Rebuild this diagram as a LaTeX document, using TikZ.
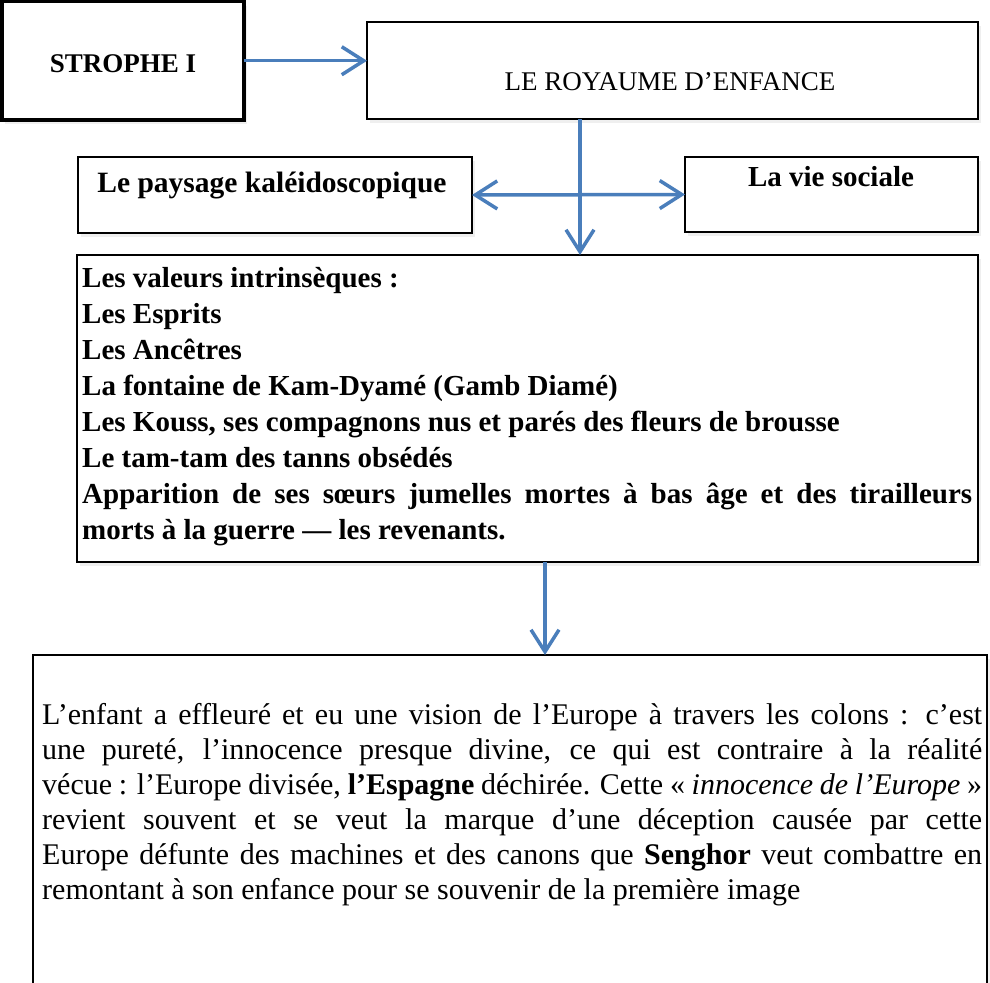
\documentclass[tikz,border=0pt]{standalone}
\usepackage{fontspec}
\setmainfont{Liberation Serif}
\usetikzlibrary{arrows.meta,shadows,calc}
\definecolor{arrblue}{RGB}{74,126,187}
\begin{document}
\begin{tikzpicture}[x=1pt,y=-1pt,
  box/.style={draw=black, line width=2.2pt, fill=white, inner sep=0pt, outer sep=0pt, anchor=north west,
    drop shadow={opacity=0.12, shadow xshift=3pt, shadow yshift=-4pt}},
  thickbox/.style={box, line width=3.5pt},
  arr/.style={draw=arrblue, line width=3.5pt, -{Straight Barb[length=22pt,width=28pt]}},
  dblarr/.style={draw=arrblue, line width=3.5pt, {Straight Barb[length=22pt,width=28pt]}-{Straight Barb[length=22pt,width=28pt]}},
  lbl/.style={inner sep=0pt, anchor=base},
  para/.style={inner sep=0pt, anchor=base west},
]
\useasboundingbox (0,0) rectangle (990,982);
\fill[white] (0,0) rectangle (990,982);

% boxes
\node[thickbox, minimum width=242pt, minimum height=118pt] (b1) at (1.75,1.75) {};
\node[box, minimum width=611pt, minimum height=97pt] (b2) at (367,22) {};
\node[box, minimum width=394pt, minimum height=76pt] (b3) at (78,157) {};
\node[box, minimum width=293pt, minimum height=75pt] (b6) at (685,157) {};
\node[box, minimum width=901pt, minimum height=307pt] (b4) at (77,255) {};
\node[box, minimum width=954pt, minimum height=360pt] (b5) at (33,655) {};

% labels
\node[lbl, font=\fontsize{27}{32}\selectfont\bfseries] (t1) at (123,73) {STROPHE I};
\node[lbl, font=\fontsize{27}{32}\selectfont] (t2) at (670,90) {LE ROYAUME D’ENFANCE};
\node[lbl, font=\fontsize{29.5}{34}\selectfont\bfseries] (t3) at (272,192) {Le paysage kaléidoscopique};
\node[lbl, font=\fontsize{29}{34}\selectfont\bfseries] (t6) at (831,186) {La vie sociale};

\node[para] (t4) at (82,287) {\parbox[t]{890pt}{\fontsize{29}{36}\selectfont\bfseries
\tolerance=10000 \hyphenpenalty=10000 \exhyphenpenalty=10000
Les valeurs intrinsèques :\\
Les Esprits\\
Les Ancêtres\\
La fontaine de Kam-Dyamé (Gamb Diamé)\\
Les Kouss, ses compagnons nus et parés des fleurs de brousse\\
Le tam-tam des tanns obsédés\\
Apparition de ses sœurs jumelles mortes à bas âge et des tirailleurs\linebreak
morts à la guerre — les revenants.}};

\node[para] (t5) at (42,724) {\parbox[t]{940pt}{\fontsize{30}{35}\selectfont
\tolerance=10000 \hyphenpenalty=10000 \exhyphenpenalty=10000
L’enfant a effleuré et eu une vision de l’Europe à travers les colons : c’est\linebreak
une pureté, l’innocence presque divine, ce qui est contraire à la réalité\linebreak
vécue : l’Europe divisée, \textbf{l’Espagne} déchirée. Cette « \textit{innocence de l’Europe} »\linebreak
revient souvent et se veut la marque d’une déception causée par cette\linebreak
Europe défunte des machines et des canons que \textbf{Senghor} veut combattre en\linebreak
remontant à son enfance pour se souvenir de la première image}};

% connectors
\coordinate (vx) at (580,190);
\coordinate (vy) at (545,600);
\draw[arr] (b1.east) -- (b1.east -| b2.west);
\draw[arr] (vx |- b2.south) -- (vx |- b4.north);
\draw[dblarr] (b3.east) -- (b6.west);
\draw[arr] (vy |- b4.south) -- (vy |- b5.north);
\end{tikzpicture}
\end{document}
